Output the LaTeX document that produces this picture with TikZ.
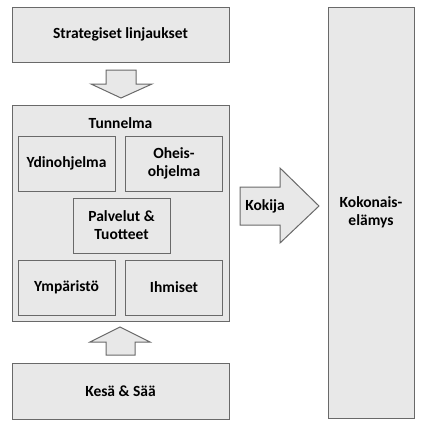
\documentclass[tikz,border=0pt]{standalone}
\usepackage{fontspec}
\setmainfont{Carlito}
\usetikzlibrary{positioning}

\definecolor{boxfill}{RGB}{232,232,232}
\definecolor{boxline}{RGB}{105,105,105}

\begin{document}
\begin{tikzpicture}[x=1pt, y=-1pt,
    box/.style={rectangle, draw=boxline, fill=boxfill, line width=1pt,
        font=\fontsize{15.5}{18}\selectfont\bfseries, align=center, inner sep=0pt},
    wide box/.style={box, minimum width=217pt, minimum height=55pt},
    small box/.style={box, minimum width=97pt, minimum height=55pt},
    block arrow/.style={draw=boxline, fill=boxfill, line width=1pt, line join=miter},
    label text/.style={font=\fontsize{15.5}{18}\selectfont\bfseries, inner sep=0pt}
]
\useasboundingbox (0,0) rectangle (436,432);

% Nodes
\node[wide box] (strat) at (120.5, 34.5) {Strategiset linjaukset};
\node[box, minimum width=217pt, minimum height=216pt] (tunnelma) at (120.5, 213) {};
\node[label text] (tunnelmatext) at (120.5, 123) {Tunnelma};

\node[small box] (ydin) at (66.5, 163.5) {Ydinohjelma};
\node[small box] (oheis) at (174, 163.5) {Oheis-\\ohjelma};
\node[small box] (palvelut) at (121.5, 225.5) {Palvelut \&\\Tuotteet};
\node[small box] (ymparisto) at (66.5, 287.5) {Ympäristö};
\node[small box] (ihmiset) at (174, 287.5) {Ihmiset};

\node[wide box, minimum height=56pt] (kesa) at (120.5, 391) {Kesä \& Sää};
\node[box, minimum width=86pt, minimum height=411pt] (koko) at (371, 212.5) {Kokonais-\\elämys};

% Block arrows
\draw[block arrow] (106,70) -- (136,70) -- (136,84) -- (152,84) -- (121,98)
    -- (91,84) -- (106,84) -- cycle;
\draw[block arrow] (106,355) -- (135,355) -- (135,342) -- (150,342) -- (120,327)
    -- (90,342) -- (106,342) -- cycle;
\draw[block arrow] (240,187) -- (280,187) -- (280,168) -- (319,206) -- (280,243)
    -- (280,225) -- (240,225) -- cycle;
\node[label text] (kokija) at (265, 206) {Kokija};

\end{tikzpicture}
\end{document}
